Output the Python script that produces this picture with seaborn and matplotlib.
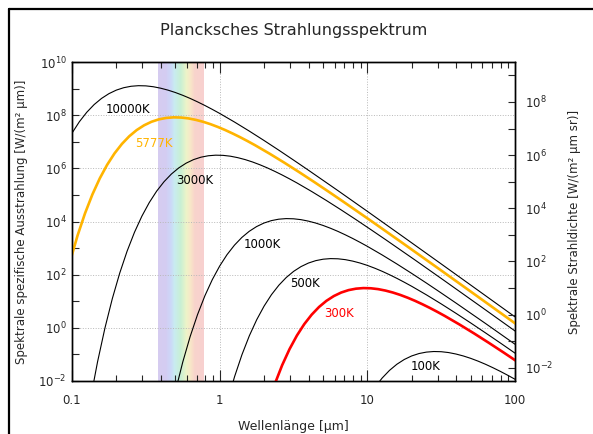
"""
Plancksches Strahlungsspektrum - black body curves on log-log axes
"""
import matplotlib
matplotlib.use('Agg')
import matplotlib.pyplot as plt
import seaborn as sns
import numpy as np
import pandas as pd
from matplotlib.colors import LinearSegmentedColormap
from matplotlib.lines import Line2D
from matplotlib.ticker import FixedLocator, NullFormatter, LogFormatterSciNotation

# Values, stored as powers of ten:
# lg_lam = log10(wavelength / um), lg_M = log10(exitance / (W/(m^2 um)))
lg_lam_10000 = [-1.05, -1.00, -0.95, -0.90, -0.85, -0.80, -0.75, -0.70, -0.65, -0.60, -0.55,
                -0.50, -0.45, -0.40, -0.35, -0.30, -0.25, -0.20, -0.15, -0.10, -0.05, 0.00,
                0.10, 0.20, 0.30, 0.40, 0.50, 0.60, 0.80, 1.00, 1.25, 1.50, 1.75, 2.00]
lg_M_10000 = [6.812, 7.324, 7.754, 8.109, 8.399, 8.630, 8.809, 8.942, 9.033, 9.087, 9.109,
              9.102, 9.070, 9.015, 8.942, 8.852, 8.747, 8.630, 8.501, 8.364, 8.218, 8.066,
              7.743, 7.403, 7.049, 6.685, 6.312, 5.934, 5.165, 4.383, 3.397, 2.405, 1.410, 0.412]

lg_lam_5777 = [-1.012, -0.962, -0.912, -0.862, -0.812, -0.762, -0.712, -0.662, -0.612, -0.562,
               -0.512, -0.462, -0.412, -0.362, -0.312, -0.262, -0.212, -0.162, -0.112, -0.062,
               -0.012, 0.038, 0.088, 0.138, 0.188, 0.238, 0.338, 0.438, 0.538, 0.638, 0.738,
               0.838, 1.038, 1.238, 1.488, 1.738, 1.988, 2.238]
lg_M_5777 = [2.520, 3.479, 4.305, 5.016, 5.621, 6.133, 6.563, 6.918, 7.208, 7.439,
             7.618, 7.751, 7.842, 7.896, 7.918, 7.911, 7.879, 7.824, 7.751, 7.661,
             7.556, 7.439, 7.310, 7.173, 7.027, 6.875, 6.552, 6.212, 5.858, 5.494, 5.121,
             4.743, 3.974, 3.192, 2.206, 1.214, 0.219, -0.779]

lg_lam_3000 = [-0.877, -0.827, -0.777, -0.727, -0.677, -0.627, -0.577, -0.527, -0.477, -0.427,
               -0.377, -0.327, -0.277, -0.227, -0.177, -0.127, -0.077, -0.027, 0.023, 0.073,
               0.123, 0.173, 0.223, 0.273, 0.323, 0.373, 0.423, 0.473, 0.523, 0.623, 0.723,
               0.823, 0.923, 1.023, 1.123, 1.323, 1.523, 1.773, 2.023]
lg_M_3000 = [-2.737, -1.280, -0.009, 1.097, 2.056, 2.882, 3.593, 4.198, 4.710, 5.140,
             5.495, 5.785, 6.016, 6.195, 6.328, 6.419, 6.473, 6.495, 6.488, 6.456,
             6.401, 6.328, 6.238, 6.133, 6.016, 5.887, 5.750, 5.604, 5.452, 5.129, 4.789,
             4.435, 4.071, 3.698, 3.320, 2.551, 1.769, 0.783, -0.209]

lg_lam_1000 = [-0.30, -0.25, -0.20, -0.15, -0.10, -0.05, 0.00, 0.05, 0.10, 0.15, 0.20, 0.25,
               0.30, 0.35, 0.40, 0.45, 0.50, 0.55, 0.60, 0.65, 0.70, 0.75, 0.80, 0.85, 0.90,
               0.95, 1.00, 1.10, 1.20, 1.30, 1.40, 1.50, 1.60, 1.80, 2.00]
lg_M_1000 = [-2.395, -1.289, -0.330, 0.496, 1.207, 1.812, 2.324, 2.754, 3.109, 3.399, 3.630, 3.809,
             3.942, 4.033, 4.087, 4.109, 4.102, 4.070, 4.015, 3.942, 3.852, 3.747, 3.630, 3.501, 3.364,
             3.218, 3.066, 2.743, 2.403, 2.049, 1.685, 1.312, 0.934, 0.165, -0.617]

lg_lam_500 = [0.051, 0.101, 0.151, 0.201, 0.251, 0.301, 0.351, 0.401, 0.451, 0.501, 0.551,
              0.601, 0.651, 0.701, 0.751, 0.801, 0.851, 0.901, 0.951, 1.001, 1.051, 1.101,
              1.151, 1.201, 1.251, 1.301, 1.401, 1.501, 1.601, 1.701, 1.801, 1.901, 2.101]
lg_M_500 = [-2.794, -1.835, -1.009, -0.298, 0.307, 0.819, 1.249, 1.604, 1.894, 2.125, 2.304,
            2.437, 2.528, 2.582, 2.604, 2.597, 2.565, 2.510, 2.437, 2.347, 2.242, 2.125,
            1.996, 1.859, 1.713, 1.561, 1.238, 0.898, 0.544, 0.180, -0.193, -0.571, -1.340]

lg_lam_300 = [0.323, 0.373, 0.423, 0.473, 0.523, 0.573, 0.623, 0.673, 0.723, 0.773, 0.823,
              0.873, 0.923, 0.973, 1.023, 1.073, 1.123, 1.173, 1.223, 1.273, 1.323, 1.373,
              1.423, 1.473, 1.523, 1.623, 1.723, 1.823, 1.923, 2.023]
lg_M_300 = [-2.944, -2.118, -1.407, -0.802, -0.290, 0.140, 0.495, 0.785, 1.016, 1.195, 1.328,
            1.419, 1.473, 1.495, 1.488, 1.456, 1.401, 1.328, 1.238, 1.133, 1.016, 0.887,
            0.750, 0.604, 0.452, 0.129, -0.211, -0.565, -0.929, -1.302]

lg_lam_100 = [1.05, 1.10, 1.15, 1.20, 1.25, 1.30, 1.35, 1.40, 1.45, 1.50,
              1.55, 1.60, 1.65, 1.70, 1.75, 1.80, 1.85, 1.90, 1.95, 2.00]
lg_M_100 = [-2.246, -1.891, -1.601, -1.370, -1.191, -1.058, -0.967, -0.913, -0.891, -0.898,
            -0.930, -0.985, -1.058, -1.148, -1.253, -1.370, -1.499, -1.636, -1.782, -1.934]

visible_band = [0.38, 0.78]  # um

# (label, x, y, colour, linewidth, label position)
curves = [
    ('10000K', lg_lam_10000, lg_M_10000, 'black', 0.8, (0.239, 1.7e8)),
    ('5777K', lg_lam_5777, lg_M_5777, '#ffb400', 1.9, (0.359, 8.9e6)),
    ('3000K', lg_lam_3000, lg_M_3000, 'black', 0.8, (0.681, 3.6e5)),
    ('1000K', lg_lam_1000, lg_M_1000, 'black', 0.8, (1.93, 1.4e3)),
    ('500K', lg_lam_500, lg_M_500, 'black', 0.8, (3.78, 45)),
    ('300K', lg_lam_300, lg_M_300, '#ff0000', 1.9, (6.43, 3.6)),
    ('100K', lg_lam_100, lg_M_100, 'black', 0.8, (24.9, 0.036)),
]

sns.set_style("white")
plt.rcParams['font.family'] = ['DejaVu Sans']
plt.rcParams['mathtext.fontset'] = 'dejavusans'
plt.rcParams['axes.edgecolor'] = 'black'

fig = plt.figure(figsize=(5.93, 4.34), dpi=100)
ax = fig.add_axes([72 / 593, 1 - 381 / 434, 443 / 593, 319 / 434])
ax.set_xscale('log')
ax.set_yscale('log')

# visible spectrum band (pastel rainbow)
spec_cmap = LinearSegmentedColormap.from_list('spec', [
    (0.0, '#d6ccf0'), (0.11, '#d4ccf2'), (0.20, '#ccd8f8'), (0.27, '#c8ecf0'),
    (0.39, '#c8f0d4'), (0.52, '#eef4c8'), (0.62, '#f8e6c8'), (0.72, '#f8d4cc'), (1.0, '#f8d0d0')])
grad = np.linspace(0, 1, 256).reshape(1, -1)
ax.imshow(grad, extent=[visible_band[0], visible_band[1], 1e-3, 1e11], aspect='auto',
          cmap=spec_cmap, zorder=0.2, interpolation='bilinear')

for name, lx, ly, color, lw, (tx, ty) in curves:
    df = pd.DataFrame({'lam': 10 ** np.array(lx), 'M': 10 ** np.array(ly)})
    sns.lineplot(data=df, x='lam', y='M', ax=ax, color=color, linewidth=lw,
                 sort=False, estimator=None, zorder=3)
    ax.text(tx, ty, name, color=color, fontsize=8.5, ha='center', va='center', zorder=4)

ax.set_xlim(0.1, 100)
ax.set_ylim(1e-2, 1e10)

# ticks
ax.xaxis.set_major_locator(FixedLocator([0.1, 1, 10, 100]))
ax.set_xticklabels(['0.1', '1', '10', '100'])
minor_x = [m * 10.0 ** e for e in (-1, 0, 1) for m in range(2, 10)]
ax.xaxis.set_minor_locator(FixedLocator(minor_x))
ax.xaxis.set_minor_formatter(NullFormatter())
ax.yaxis.set_major_locator(FixedLocator([10.0 ** e for e in range(-2, 11, 2)]))
ax.yaxis.set_minor_locator(FixedLocator([10.0 ** e for e in range(-1, 10, 2)]))
ax.yaxis.set_major_formatter(LogFormatterSciNotation())
ax.yaxis.set_minor_formatter(NullFormatter())
ax.tick_params(axis='x', which='both', direction='in', top=True, bottom=True, labelsize=8.5, pad=9)
ax.tick_params(axis='x', which='major', length=8, width=0.8)
ax.tick_params(axis='x', which='minor', length=4, width=0.8)
ax.tick_params(axis='y', which='both', direction='in', left=True, right=False,
               length=5, width=0.8, labelsize=8.5, pad=4)
ax.grid(True, which='major', linestyle=':', color='#b8b8b8', linewidth=0.7)
ax.set_axisbelow(True)
for sp in ax.spines.values():
    sp.set_linewidth(1.0)

# right axis: radiance = exitance / pi
ax2 = ax.twinx()
ax2.set_yscale('log')
ax2.set_ylim(1e-2 / np.pi, 1e10 / np.pi)
ax2.yaxis.set_major_locator(FixedLocator([10.0 ** e for e in range(-2, 9, 2)]))
ax2.yaxis.set_minor_locator(FixedLocator([10.0 ** e for e in range(-1, 10, 2)]))
ax2.yaxis.set_major_formatter(LogFormatterSciNotation())
ax2.yaxis.set_minor_formatter(NullFormatter())
ax2.tick_params(axis='y', which='both', direction='in', length=5, width=0.8,
                labelsize=8.5, pad=7)
ax2.grid(False)
for sp in ax2.spines.values():
    sp.set_linewidth(1.0)

ax.set_xlabel('Wellenlänge [µm]', fontsize=9, labelpad=10)
ax.set_ylabel('Spektrale spezifische Ausstrahlung [W/(m² µm)]', fontsize=8.5, labelpad=7)
ax2.set_ylabel('Spektrale Strahldichte [W/(m² µm sr)]', fontsize=8.5, labelpad=11)

fig.text(294 / 593, 1 - 30 / 434, 'Plancksches Strahlungsspektrum', ha='center', va='center',
         fontsize=11.6)

# frame of the original figure (top and left edge)
fig.add_artist(Line2D([8.5 / 593, 8.5 / 593], [0, 1 - 9 / 434], transform=fig.transFigure,
                      color='black', linewidth=1.6))
fig.add_artist(Line2D([8.5 / 593, 1], [1 - 9 / 434, 1 - 9 / 434], transform=fig.transFigure,
                      color='black', linewidth=1.6))

fig.savefig('out.png', dpi=100)
